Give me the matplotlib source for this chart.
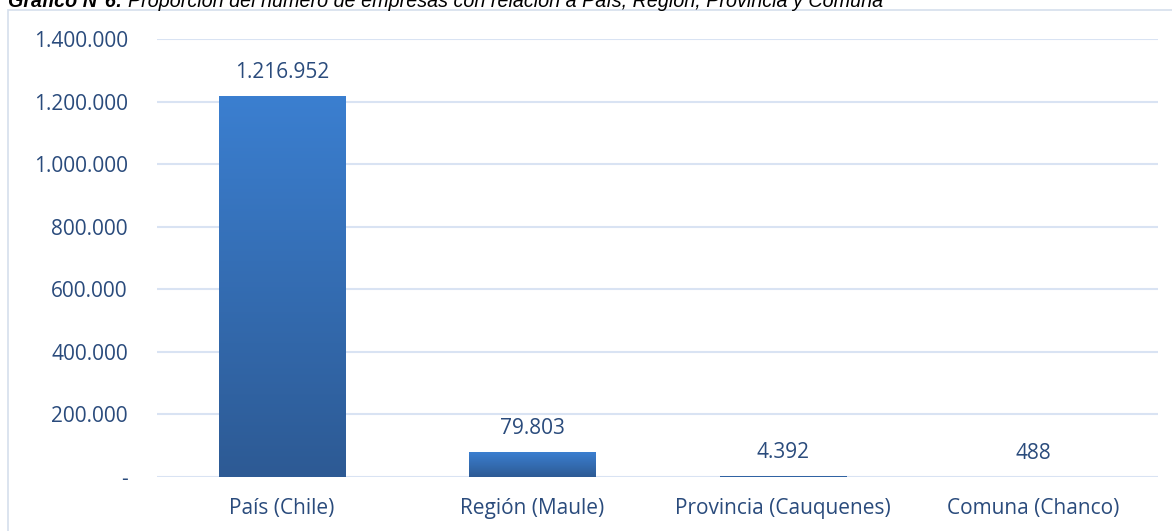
import numpy as np
import matplotlib
matplotlib.use("Agg")
import matplotlib.pyplot as plt
from matplotlib.patches import Rectangle
from matplotlib import patheffects
from matplotlib.colors import LinearSegmentedColormap
from matplotlib.ticker import FuncFormatter

# data
categories = ["País (Chile)", "Región (Maule)", "Provincia (Cauquenes)", "Comuna (Chanco)"]
empresas = [1216952, 79803, 4392, 488]
yticks = [0, 200000, 400000, 600000, 800000, 1000000, 1200000, 1400000]

TXT = "#2A4B7C"
GRID = "#D9E3F3"
FS = 15


def miles(v, pos=None):
    if v == 0:
        return "-"
    return f"{int(v):,}".replace(",", ".")


plt.rcParams["font.family"] = ["Open Sans", "DejaVu Sans"]

fig = plt.figure(figsize=(11.72, 5.31), dpi=100)
ax = fig.add_axes([157 / 1172, 54 / 531, 1001 / 1172, 438 / 531])

# chart frame border
fig.patches.append(Rectangle((8 / 1172, -0.01), 1.2, (531 - 10) / 531 + 0.01,
                             transform=fig.transFigure, fill=False,
                             edgecolor="#D5DFEC", linewidth=1.2, zorder=0))

# title, cut off at the top edge as in the source
ty = 1 - 7 / 531
fig.text(123 / 1172, ty, "Gráfico N°6:", fontsize=14.2, fontweight="bold",
         fontstyle="italic", family="Liberation Sans", color="#000000",
         ha="right", va="baseline")
fig.text(128 / 1172, ty,
         "Proporción del número de empresas con relación a País, Región, Provincia y Comuna",
         fontsize=14.2, fontstyle="italic", family="Liberation Sans", color="#000000",
         va="baseline")

x = np.arange(len(categories))
ax.set_xlim(-0.5, 3.5)
ax.set_ylim(0, 1400000)

cmap = LinearSegmentedColormap.from_list("bar", ["#2D5A94", "#3B7FD0"])
grad = np.linspace(0, 1, 256).reshape(-1, 1)
w = 0.504
bars = ax.bar(x, empresas, width=w, color="#3571BA", zorder=3,
              path_effects=[patheffects.SimplePatchShadow(offset=(0, -2), shadow_rgbFace="#888888", alpha=0.35),
                            patheffects.Normal()])
for b, v in zip(bars, empresas):
    im = ax.imshow(grad, cmap=cmap, aspect="auto", origin="lower",
                   extent=(b.get_x(), b.get_x() + w, 0, v), zorder=4)
    im.set_clip_path(b)
    ax.annotate(miles(v), (b.get_x() + w / 2, v), xytext=(0, 13),
                textcoords="offset points", ha="center", va="baseline",
                fontsize=FS, color=TXT)

ax.set_xticks(x)
ax.set_xticklabels(categories)
ax.set_yticks(yticks)
ax.yaxis.set_major_formatter(FuncFormatter(miles))
ax.tick_params(axis="both", length=0, labelsize=FS, labelcolor=TXT)
ax.tick_params(axis="y", pad=21)
ax.tick_params(axis="x", pad=15)
ax.grid(axis="y", color=GRID, linewidth=1.5, zorder=0)
ax.set_axisbelow(True)
for s in ax.spines.values():
    s.set_visible(False)

fig.savefig("out.png", dpi=100)
